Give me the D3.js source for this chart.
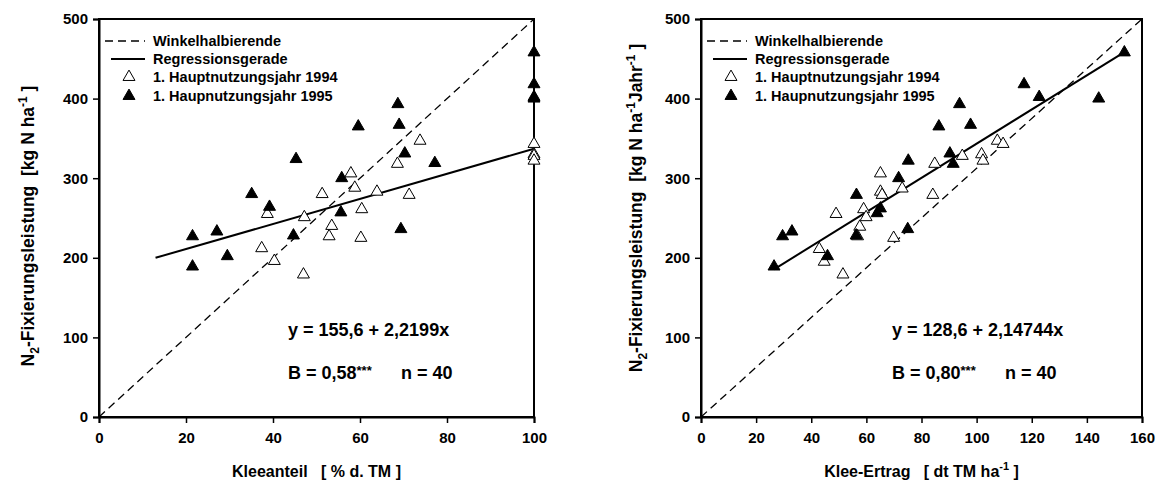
<!DOCTYPE html>
<html>
<head>
<meta charset="utf-8">
<script src="https://cdn.jsdelivr.net/npm/d3@7"></script>
<style>
  body { margin: 0; background: #fff; }
  svg text { font-family: "Liberation Sans", Arial, sans-serif; font-weight: bold; fill: #000; white-space: pre; }
</style>
</head>
<body>
<svg id="chart" width="1161" height="490"></svg>
<script>
// Left panel: Kleeanteil (% d. TM) vs N2-Fixierung
const leftOpenX = [73.8, 68.6, 57.9, 58.8, 51.3, 63.9, 71.3, 60.4, 47.2, 38.7, 53.5, 52.9, 60.2, 37.4, 40.3, 47.0, 100, 100, 100, 100];
const leftOpenY = [347, 318, 306, 288, 280, 283, 279, 261, 251, 255, 240, 227, 225, 212, 196, 179, 343, 330, 328, 322];
const leftFilledX = [68.7, 59.6, 69.0, 45.3, 70.3, 77.2, 55.8, 35.1, 39.2, 55.6, 21.5, 27.1, 29.5, 21.5, 44.7, 69.4, 100, 100, 100, 100];
const leftFilledY = [393, 365, 367, 324, 331, 319, 300, 280, 264, 257, 227, 233, 202, 189, 228, 236, 458, 418, 402, 400];
const leftReg = [[13, 200], [100, 337]];
const leftDiag = [[0, 0], [100, 500]];

// Right panel: Klee-Ertrag (dt TM/ha) vs N2-Fixierung
const rightOpenX = [107.5, 109.6, 101.8, 102.3, 94.8, 84.8, 65.1, 65.1, 65.7, 73.0, 84.1, 49.0, 59.0, 59.9, 57.6, 56.8, 69.9, 42.9, 44.7, 51.5];
const rightOpenY = [347, 343, 330, 322, 328, 318, 306, 283, 279, 287, 279, 255, 261, 251, 239, 227, 225, 211, 195, 179];
const rightFilledX = [153.6, 117.2, 122.7, 144.3, 93.8, 86.3, 97.8, 75.2, 90.3, 91.5, 71.7, 56.4, 65.1, 63.9, 29.6, 33.0, 45.9, 26.5, 56.3, 75.0];
const rightFilledY = [458, 418, 402, 400, 393, 365, 367, 322, 331, 318, 300, 279, 262, 256, 227, 233, 202, 189, 228, 236];
const rightReg = [[26.5, 128.6 + 2.14744 * 26.5], [153.6, 128.6 + 2.14744 * 153.6]];
const rightDiag = [[0, 0], [160, 500]];

const yTicks = [0, 100, 200, 300, 400, 500];
const leftXTicks = [0, 20, 40, 60, 80, 100];
const rightXTicks = [0, 20, 40, 60, 80, 100, 120, 140, 160];
const legendLabels = ['Winkelhalbierende', 'Regressionsgerade', '1. Hauptnutzungsjahr 1994', '1. Haupnutzungsjahr 1995'];

const svg = d3.select('#chart');
const plotTop = 19, plotBottom = 417;

function panel(opts) {
    const x = d3.scaleLinear().domain(opts.xDomain).range([opts.left, opts.right]);
    const y = d3.scaleLinear().domain([0, 500]).range([plotBottom, plotTop]);
    const g = svg.append('g');

    // frame
    g.append('rect')
        .attr('x', opts.left).attr('y', plotTop)
        .attr('width', opts.right - opts.left).attr('height', plotBottom - plotTop)
        .attr('fill', 'none').attr('stroke', '#000').attr('stroke-width', 2);

    // axes
    const yAxis = g.append('g')
        .attr('transform', `translate(${opts.left},0)`)
        .call(d3.axisLeft(y).tickValues(yTicks).tickSize(6).tickPadding(5));
    const xAxis = g.append('g')
        .attr('transform', `translate(0,${plotBottom})`)
        .call(d3.axisBottom(x).tickValues(opts.xTicks).tickSize(6).tickPadding(9));
    [xAxis, yAxis].forEach(a => {
        a.select('.domain').attr('stroke-width', 2);
        a.selectAll('.tick line').attr('stroke-width', 1.5);
        a.selectAll('.tick text').style('font-size', '15px')
            .style('font-family', '"Liberation Sans", Arial, sans-serif').style('font-weight', 'bold');
    });

    const line = d3.line().x(d => x(d[0])).y(d => y(d[1]));
    g.append('path').attr('d', line(opts.diag))
        .attr('fill', 'none').attr('stroke', '#000').attr('stroke-width', 1.3)
        .attr('stroke-dasharray', '8,5');
    g.append('path').attr('d', line(opts.reg))
        .attr('fill', 'none').attr('stroke', '#000').attr('stroke-width', 2);

    const tri = d3.symbol().type(d3.symbolTriangle).size(62);
    const open = opts.openX.map((v, i) => [v, opts.openY[i]]);
    const filled = opts.filledX.map((v, i) => [v, opts.filledY[i]]);
    g.selectAll('.open').data(open).enter().append('path')
        .attr('d', tri).attr('transform', d => `translate(${x(d[0])},${y(d[1])})`)
        .attr('fill', '#fff').attr('stroke', '#000').attr('stroke-width', 1);
    g.selectAll('.filled').data(filled).enter().append('path')
        .attr('d', tri).attr('transform', d => `translate(${x(d[0])},${y(d[1])})`)
        .attr('fill', '#000').attr('stroke', '#000').attr('stroke-width', 1);

    // legend
    const lx = opts.left;
    const rows = [41, 59, 77, 96];
    g.append('line').attr('x1', lx + 6).attr('x2', lx + 46).attr('y1', rows[0]).attr('y2', rows[0])
        .attr('stroke', '#000').attr('stroke-width', 1.3).attr('stroke-dasharray', '8,5');
    g.append('line').attr('x1', lx + 12).attr('x2', lx + 46).attr('y1', rows[1]).attr('y2', rows[1])
        .attr('stroke', '#000').attr('stroke-width', 2);
    g.append('path').attr('d', tri).attr('transform', `translate(${lx + 30},${rows[2]})`)
        .attr('fill', '#fff').attr('stroke', '#000');
    g.append('path').attr('d', tri).attr('transform', `translate(${lx + 30},${rows[3]})`)
        .attr('fill', '#000').attr('stroke', '#000');
    legendLabels.forEach((t, i) => {
        g.append('text').attr('x', lx + 54).attr('y', rows[i] + 5)
            .style('font-size', '14.5px').text(t);
    });

    // statistics text
    const tx = opts.textX;
    g.append('text').attr('x', tx).attr('y', 336).style('font-size', '18px').text(opts.eq);
    const b = g.append('text').attr('x', tx).attr('y', 379).style('font-size', '18px');
    b.append('tspan').text(opts.b);
    b.append('tspan').attr('dy', -4).style('font-size', '13px').text('***');
    b.append('tspan').attr('dy', 4).attr('x', tx + 113).text('n = 40');

    // y title
    const yt = g.append('text')
        .attr('transform', `translate(${opts.yTitleX},${(plotTop + plotBottom) / 2 + opts.yTitleShift}) rotate(-90)`)
        .attr('text-anchor', 'middle').style('font-size', '17.5px');
    yt.append('tspan').text('N');
    yt.append('tspan').attr('dy', 5).style('font-size', '12px').text('2');
    yt.append('tspan').attr('dy', -5).text('-Fixierungsleistung  [kg N ha');
    yt.append('tspan').attr('dy', -7).style('font-size', '12px').text('-1');
    if (opts.jahr) {
        yt.append('tspan').attr('dy', 7).text('Jahr');
        yt.append('tspan').attr('dy', -7).style('font-size', '12px').text('-1');
    }
    yt.append('tspan').attr('dy', 7).text(' ]');

    // x title
    const xt = g.append('text')
        .attr('x', (opts.left + opts.right) / 2).attr('y', 477)
        .attr('text-anchor', 'middle').style('font-size', '16px');
    opts.xTitle.forEach(p => {
        const s = xt.append('tspan').text(p.t);
        if (p.sup) s.attr('dy', -7).style('font-size', '11px');
        if (p.back) s.attr('dy', 7);
    });
}

panel({
    left: 99, right: 534, xDomain: [0, 100], xTicks: leftXTicks,
    openX: leftOpenX, openY: leftOpenY, filledX: leftFilledX, filledY: leftFilledY,
    reg: leftReg, diag: leftDiag,
    textX: 288, eq: 'y = 155,6 + 2,2199x', b: 'B = 0,58',
    yTitleX: 34, yTitleShift: 8, jahr: false,
    xTitle: [{ t: 'Kleeanteil   [ % d. TM ]' }]
});

panel({
    left: 701, right: 1142, xDomain: [0, 160], xTicks: rightXTicks,
    openX: rightOpenX, openY: rightOpenY, filledX: rightFilledX, filledY: rightFilledY,
    reg: rightReg, diag: rightDiag,
    textX: 892, eq: 'y = 128,6 + 2,14744x', b: 'B = 0,80',
    yTitleX: 642, yTitleShift: -10, jahr: true,
    xTitle: [{ t: 'Klee-Ertrag   [ dt TM ha' }, { t: '-1', sup: true }, { t: ' ]', back: true }]
});
</script>
</body>
</html>
